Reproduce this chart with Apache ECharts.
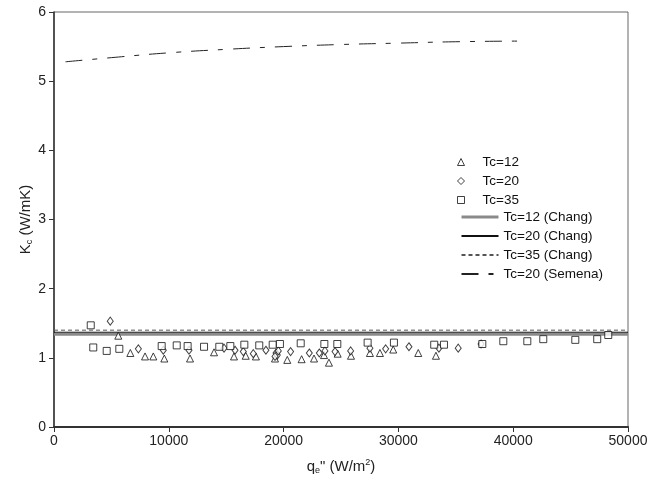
<!DOCTYPE html>
<html>
<head>
<meta charset="utf-8">
<script src="https://cdn.jsdelivr.net/npm/echarts@6/dist/echarts.min.js"></script>
<style>
  html, body { margin: 0; padding: 0; background: #fff; }
  #chart { width: 651px; height: 477px; }
</style>
</head>
<body>
<div id="chart"></div>
<script>
// measured points, q (W/m2) and Kc (W/mK)
var tc12X = [5600, 6650, 7930, 8650, 9610, 11850, 13940, 15680, 16700, 17590, 19250, 20320, 21570, 22650, 23520, 23950, 24710, 25870, 27520, 28390, 29550, 31730, 33270];
var tc12Y = [1.32, 1.07, 1.02, 1.02, 0.99, 0.99, 1.08, 1.02, 1.03, 1.02, 0.99, 0.97, 0.98, 0.99, 1.04, 0.93, 1.06, 1.03, 1.07, 1.07, 1.12, 1.07, 1.03];

var tc20X = [4900, 7350, 9520, 11760, 14810, 15770, 16490, 17360, 18460, 19340, 19450, 19250, 19540, 20610, 22240, 23110, 23600, 24480, 25840, 27520, 28890, 30920, 33530, 35210, 37200];
var tc20Y = [1.53, 1.13, 1.11, 1.11, 1.14, 1.11, 1.09, 1.06, 1.11, 1.07, 1.04, 1.02, 1.10, 1.09, 1.07, 1.07, 1.10, 1.09, 1.10, 1.14, 1.13, 1.16, 1.14, 1.14, 1.20];

var tc35X = [3200, 3420, 4590, 5690, 9380, 10690, 11640, 13070, 14400, 15360, 16580, 17880, 19050, 19680, 21490, 23550, 24680, 27320, 29610, 33120, 33970, 37310, 39140, 41230, 42620, 45410, 47320, 48280];
var tc35Y = [1.47, 1.15, 1.10, 1.13, 1.17, 1.18, 1.17, 1.16, 1.16, 1.17, 1.19, 1.18, 1.19, 1.20, 1.21, 1.20, 1.20, 1.22, 1.22, 1.19, 1.19, 1.20, 1.24, 1.24, 1.27, 1.26, 1.27, 1.33];

// correlations
var changX = [0, 50000];
var chang12 = [1.34, 1.34];
var chang20 = [1.37, 1.37];
var chang35 = [1.40, 1.40];

var semenaX = [1000, 5000, 10000, 15000, 20000, 25000, 30000, 35000, 41000];
var semenaY = [5.28, 5.34, 5.41, 5.46, 5.50, 5.53, 5.55, 5.57, 5.58];

function pairs(xs, ys) {
  var out = [];
  for (var i = 0; i < xs.length; i++) out.push([xs[i], ys[i]]);
  return out;
}

var myChart = echarts.init(document.getElementById("chart"));

var font = "'Liberation Sans', Arial, sans-serif";
var hollow = { color: "#fff", borderColor: "#111", borderWidth: 1 };

var option = {
  animation: false,
  textStyle: { fontFamily: font },
  grid: {
    left: 54, right: 23, top: 12, bottom: 50,
    outerBoundsMode: "none",
    show: true, borderColor: "#666", borderWidth: 1
  },
  legend: [
    {
      orient: "vertical",
      left: 452, top: 150,
      itemWidth: 7, itemHeight: 7, itemGap: 5,
      itemStyle: { borderWidth: 1 },
      selectedMode: false,
      textStyle: { fontSize: 13.5, color: "#111", fontFamily: font, padding: [0, 0, 0, 13] },
      data: ["Tc=12", "Tc=20", "Tc=35"]
    },
    {
      orient: "vertical",
      left: 455, top: 205,
      itemWidth: 37, itemHeight: 8, itemGap: 5,
      itemStyle: { opacity: 0 },
      selectedMode: false,
      textStyle: { fontSize: 13.5, color: "#111", fontFamily: font },
      data: [
        { name: "Tc=12 (Chang)", lineStyle: { width: 3 } },
        "Tc=20 (Chang)", "Tc=35 (Chang)", "Tc=20 (Semena)"
      ]
    }
  ],
  xAxis: {
    type: "value",
    min: 0, max: 50000, interval: 10000,
    splitLine: { show: false },
    axisLine: { lineStyle: { color: "#333", width: 2 } },
    axisTick: { inside: false, length: 5, lineStyle: { color: "#333" } },
    axisLabel: { fontSize: 14, color: "#222", margin: 7, formatter: function (v) { return String(v); } },
    name: "{n|q}{s|e}{n|\" (W/m}{p|2}{n|)}",
    nameLocation: "middle",
    nameGap: 31,
    nameMoveOverlap: false,
    nameTextStyle: {
      rich: {
        n: { fontSize: 15, color: "#222", fontFamily: font },
        s: { fontSize: 9, color: "#222", fontFamily: font, padding: [8, 0, 0, 0] },
        p: { fontSize: 9, color: "#222", fontFamily: font, padding: [0, 0, 8, 0] }
      }
    }
  },
  yAxis: {
    type: "value",
    min: 0, max: 6, interval: 1,
    splitLine: { show: false },
    axisLine: { lineStyle: { color: "#333", width: 1.5 } },
    axisTick: { inside: false, length: 5, lineStyle: { color: "#333" } },
    axisLabel: { fontSize: 14, color: "#222", margin: 8 },
    name: "{n|K}{s|c}{n| (W/mK)}",
    nameLocation: "middle",
    nameRotate: 90,
    nameGap: 20,
    nameMoveOverlap: false,
    nameTextStyle: {
      rich: {
        n: { fontSize: 15, color: "#222", fontFamily: font },
        s: { fontSize: 9, color: "#222", fontFamily: font, padding: [8, 0, 0, 0] }
      }
    }
  },
  series: [
    {
      name: "Tc=12", type: "scatter", symbol: "triangle", symbolSize: 7,
      itemStyle: hollow, data: pairs(tc12X, tc12Y)
    },
    {
      name: "Tc=20", type: "scatter", symbol: "diamond", symbolSize: [6, 8],
      itemStyle: hollow, data: pairs(tc20X, tc20Y)
    },
    {
      name: "Tc=35", type: "scatter", symbol: "rect", symbolSize: 7,
      itemStyle: hollow, data: pairs(tc35X, tc35Y)
    },
    {
      name: "Tc=12 (Chang)", type: "line", symbol: "none", z: 1,
      itemStyle: { color: "#8a8a8a" },
      lineStyle: { color: "#8a8a8a", width: 3 },
      data: pairs(changX, chang12)
    },
    {
      name: "Tc=20 (Chang)", type: "line", symbol: "none", z: 1,
      itemStyle: { color: "#111" },
      lineStyle: { color: "#111", width: 1 },
      data: pairs(changX, chang20)
    },
    {
      name: "Tc=35 (Chang)", type: "line", symbol: "none", z: 1,
      itemStyle: { color: "#555" },
      lineStyle: { color: "#555", width: 1, type: [4, 3] },
      data: pairs(changX, chang35)
    },
    {
      name: "Tc=20 (Semena)", type: "line", symbol: "none", smooth: true,
      itemStyle: { color: "#222" },
      lineStyle: { color: "#222", width: 1, type: [17, 10, 5, 10] },
      data: pairs(semenaX, semenaY)
    }
  ]
};

myChart.setOption(option);
window.addEventListener("resize", myChart.resize);
</script>
</body>
</html>
